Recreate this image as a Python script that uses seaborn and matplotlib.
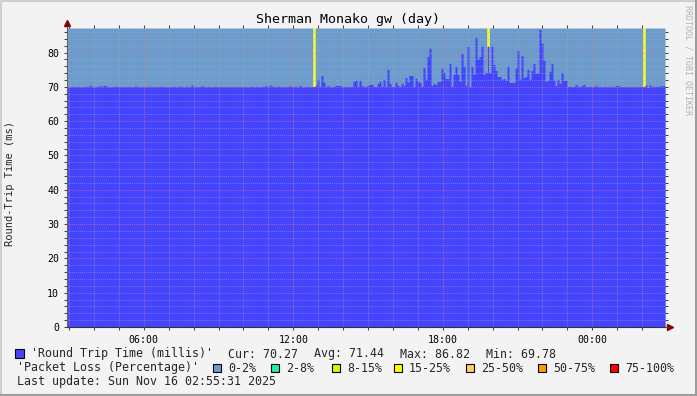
import numpy as np
import pandas as pd
import matplotlib
matplotlib.use("Agg")
import matplotlib.pyplot as plt
from matplotlib.lines import Line2D
from matplotlib.patches import Rectangle
import seaborn as sns

# ---------------- data ----------------
title = "Sherman Monako gw (day)"
ylabel = "Round-Trip Time (ms)"
window_start_hour = 2 + 55 / 60      # 02:55 the previous day
window_hours = 24

rtt_ms = [
    # 02:55 -> ~12:00 (flat)
    70.1, 70.0, 70.1, 70.1, 70.0, 70.1, 70.1, 70.0, 70.1, 70.1,
    70.1, 70.5, 70.1, 70.0, 70.1, 70.1, 70.4, 70.1, 70.4, 70.3,
    70.1, 70.0, 70.1, 70.1, 70.2, 70.1, 70.0, 70.1, 70.1, 70.0,
    70.1, 70.1, 70.0, 70.1, 70.3, 70.1, 70.0, 70.1, 70.1, 70.0,
    70.1, 70.1, 70.0, 70.1, 70.1, 70.0, 70.2, 70.1, 70.1, 70.0,
    70.1, 70.0, 70.1, 70.1, 70.0, 70.1, 70.2, 70.1, 70.0, 70.1,
    70.1, 70.0, 70.5, 70.1, 70.1, 70.0, 70.1, 70.3, 70.1, 70.0,
    70.1, 70.1, 70.0, 70.1, 70.1, 70.0, 70.1, 70.1, 70.0, 70.1,
    70.1, 70.0, 70.1, 70.1, 70.0, 70.1, 70.1, 70.0, 70.1, 70.1,
    70.0, 70.1, 70.1, 70.0, 70.1, 70.1, 70.0, 70.1, 70.1, 70.4,
    70.1, 70.5, 70.2, 70.1, 70.0, 70.2, 70.1, 70.1, 70.0, 70.1,
    70.1, 70.3,
    # ~12:15 -> 15:15
    70.1, 70.1, 70.1, 70.0, 70.4, 70.0, 70.0, 70.1, 70.1, 70.0, 70.1,
    70.1,
    70.4, 72.2, 70.1, 73.3, 71.3, 70.1, 70.4, 70.0, 70.1, 70.1,
    70.4, 70.4, 70.4, 70.1, 70.1, 70.1, 70.1, 70.1, 70.1,
    71.6, 71.9, 70.1, 71.9, 70.4, 70.1,
    # 15:15 -> 18:15
    70.1, 70.4, 70.7, 70.7, 70.1, 70.1, 71.0, 71.6, 70.1, 72.2,
    70.1, 75.1, 71.0, 70.1, 70.1, 71.3, 70.4, 70.1, 71.0, 70.4,
    72.7, 71.3, 73.3, 73.3, 70.1, 72.5, 71.6, 71.3, 70.1, 75.6,
    72.2, 78.8, 81.2, 70.4, 71.0, 70.7, 71.6,
    # 18:15 -> 21:15
    71.6, 75.4, 74.2, 72.4, 72.4, 76.8, 70.1, 73.6, 75.9, 73.6,
    71.6, 79.7, 75.9, 70.4, 81.8, 70.0, 75.9, 73.6, 84.4, 78.0,
    78.8, 81.8, 73.6, 74.2, 81.8, 74.2, 82.0, 76.5, 74.8, 73.0,
    73.0, 72.2, 72.4, 71.9, 75.9, 71.3, 71.3, 71.3,
    # 21:15 -> 00:15
    75.4, 80.6, 72.2, 79.1, 72.7, 73.0, 75.1, 72.2, 74.8, 76.8,
    74.0, 74.0, 86.8, 82.8, 77.7, 71.6, 71.9, 74.5, 76.8, 71.9,
    70.4, 72.2, 71.0, 74.2, 71.9, 71.9, 70.1, 70.1, 70.1, 70.1,
    70.7, 70.1, 70.1, 70.4, 70.7, 70.1, 70.1, 70.1,
    # 00:15 -> 02:55
    70.1, 70.1, 70.5, 70.1, 70.1, 70.0, 70.1, 70.1, 70.0, 70.1,
    70.1, 70.0, 70.4, 70.4, 70.1, 70.1, 70.0, 70.1, 70.1, 70.0,
    70.1, 70.1, 70.0, 70.1, 70.1, 70.1, 70.1, 70.5, 69.8, 70.5,
    70.1, 70.1, 70.1, 70.1, 70.3, 70.3, 70.3,
]

# packet loss events (sample index, percent); every other sample is 0 %
loss_sample = [123, 210, 288]
loss_pct_event = [20.0, 20.0, 20.0]

loss_labels = ["0-2%", "2-8%", "8-15%", "15-25%", "25-50%", "50-75%", "75-100%"]
loss_bounds = [-0.1, 2, 8, 15, 25, 50, 75, 100]
loss_colors = ["#6C9BCD", "#1FF0A8", "#CCFF00", "#FFFF00", "#FFCC66", "#FF9900", "#FF0000"]

hour_labels = ["06:00", "12:00", "18:00", "00:00"]
hour_of_day = [6, 12, 18, 24]

stats_text = ["Cur: 70.27", "Avg: 71.44", "Max: 86.82", "Min: 69.78"]
series_label = "'Round Trip Time (millis)'"
loss_title = "'Packet Loss (Percentage)'"
last_update = "Last update: Sun Nov 16 02:55:31 2025"

# ---------------- build frame ----------------
n = len(rtt_ms)
step = window_hours / n
loss_pct = np.zeros(n)
loss_pct[loss_sample] = loss_pct_event
df = pd.DataFrame({
    "t": (np.arange(n) + 0.5) * step,
    "rtt": rtt_ms,
    "loss": loss_pct,
})
df["loss_cat"] = pd.cut(df["loss"], bins=loss_bounds, labels=loss_labels).astype(str)

Y_TOP = 87.15

# ---------------- figure ----------------
sns.set_theme(style="white")
plt.rcParams["font.family"] = ["DejaVu Sans Mono", "DejaVu Sans"]

W, H = 697, 396
fig = plt.figure(figsize=(W / 100, H / 100), dpi=100, facecolor="#F3F3F3")
L, R, T, B = 67, 665, 28, 327
ax = fig.add_axes([L / W, 1 - B / H, (R - L) / W, (B - T) / H])
ax.set_facecolor("#F3F3F3")

# loss bands (full height)
for lab, col in zip(loss_labels, loss_colors):
    df["band"] = np.where(df["loss_cat"] == lab, Y_TOP, 0.0)
    if df["band"].sum() == 0:
        continue
    sns.histplot(data=df, x="t", weights="band", bins=n, binrange=(0, window_hours),
                 element="step", fill=True, color=col, alpha=1, linewidth=0,
                 ax=ax, zorder=1)

# round-trip time
sns.histplot(data=df, x="t", weights="rtt", bins=n, binrange=(0, window_hours),
             element="step", fill=True, color="#4444FF", alpha=1, linewidth=0,
             ax=ax, zorder=1.5)

ax.set_xlim(0, window_hours)
ax.set_ylim(0, Y_TOP)
ax.set_xlabel("")
ax.set_ylabel("")

major_x = [h - window_start_hour for h in hour_of_day]
minor_x = np.arange(np.ceil(window_start_hour), window_start_hour + window_hours) - window_start_hour
ax.set_xticks(major_x)
ax.set_xticklabels(hour_labels)
ax.set_xticks(minor_x, minor=True)
ax.set_yticks(np.arange(0, 81, 10))
ax.set_yticks(np.arange(0, 87, 2), minor=True)

ax.set_axisbelow(False)
ax.grid(which="minor", color="#B0B0B0", alpha=0.45, linestyle=(0, (1, 1)), linewidth=0.75, zorder=3)
ax.grid(which="major", color="#FF7070", alpha=0.55, linestyle=(0, (1, 1)), linewidth=0.75, zorder=3)

ax.tick_params(which="both", direction="out", length=2.2, width=0.75, color="#444444",
               top=True, right=True, left=True, bottom=True, labelsize=7.1, pad=3.5,
               labelcolor="#000000")
for axis in (ax.xaxis, ax.yaxis):
    for tk in axis.get_major_ticks() + axis.get_minor_ticks():
        tk.tick2line.set_color("#B0B0B0")

for s in ["top", "right"]:
    ax.spines[s].set_visible(False)
ax.spines["left"].set_color("#666666")
ax.spines["bottom"].set_color("#333333")
for s in ["left", "bottom"]:
    ax.spines[s].set_linewidth(0.8)

# arrows
ax.plot([0, 0], [1, 1 + 5 / (B - T)], transform=ax.transAxes, color="#666666",
        lw=0.8, clip_on=False)
ax.plot([1, 1 + 5 / (R - L)], [0, 0], transform=ax.transAxes, color="#333333",
        lw=0.8, clip_on=False)
ax.plot(0, 1 + 5 / (B - T), marker="^", markersize=4.5, color="#7F0000",
        transform=ax.transAxes, clip_on=False)
ax.plot(1 + 5 / (R - L), 0, marker=">", markersize=4.5, color="#7F0000",
        transform=ax.transAxes, clip_on=False)

def px(x, y):
    return x / W, 1 - y / H

fig.text(*px(348, 19), title, ha="center", va="center", fontsize=9.6, color="#000000")
fig.text(*px(10, 184), ylabel, ha="center", va="center", rotation=90, fontsize=7.5)
fig.text(*px(688, 60), "RRDTOOL / TOBI OETIKER", ha="center", va="center",
         rotation=270, fontsize=6, color="#B4B4B4")

leg_fs = 8.35
# row 1
fig.add_artist(Rectangle(px(15, 358), 9 / W, 9 / H, transform=fig.transFigure,
                         facecolor="#4444FF", edgecolor="#000000", lw=0.8))
fig.text(*px(31, 354), series_label, ha="left", va="center", fontsize=leg_fs)
for xs, txt in zip([228, 314, 400, 486], stats_text):
    fig.text(*px(xs, 354), txt, ha="left", va="center", fontsize=leg_fs)
# row 2
fig.text(*px(17, 368), loss_title, ha="left", va="center", fontsize=leg_fs)
box_x = [213, 271, 332, 394, 466, 538, 610]
for bx, lab, col in zip(box_x, loss_labels, loss_colors):
    fig.add_artist(Rectangle(px(bx, 372), 8 / W, 8 / H, transform=fig.transFigure,
                             facecolor=col, edgecolor="#000000", lw=0.8))
    fig.text(*px(bx + 15, 368), lab, ha="left", va="center", fontsize=leg_fs)
# row 3
fig.text(*px(17, 382), last_update, ha="left", va="center", fontsize=leg_fs)

# frame
fig.add_artist(Line2D([0, 1], [1 - 1 / H, 1 - 1 / H], transform=fig.transFigure, color="#CFCFCF", lw=1.5))
fig.add_artist(Line2D([1 / W, 1 / W], [0, 1], transform=fig.transFigure, color="#CFCFCF", lw=1.5))
fig.add_artist(Line2D([0, 1], [1.5 / H, 1.5 / H], transform=fig.transFigure, color="#9C9C9C", lw=2.2))
fig.add_artist(Line2D([1 - 1.5 / W, 1 - 1.5 / W], [0, 1], transform=fig.transFigure, color="#9C9C9C", lw=2.2))

fig.savefig("out.png", dpi=100, facecolor=fig.get_facecolor())
